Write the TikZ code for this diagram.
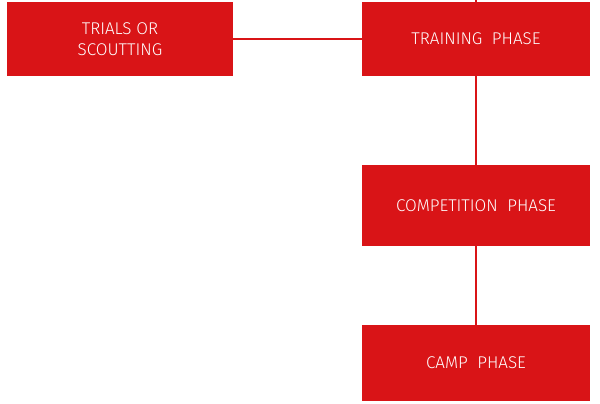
\documentclass[tikz,border=0pt]{standalone}
\usepackage{fontspec}
\setmainfont{Fira Sans Light}
\definecolor{boxred}{HTML}{D91417}
\begin{document}
\begin{tikzpicture}[x=1pt,y=1pt,
  box/.style={fill=boxred,text=white,draw=none,inner sep=0pt,align=center,font=\fontsize{17}{21}\selectfont},
  link/.style={draw=boxred,line width=1.6pt}]
\useasboundingbox (0,0) rectangle (600,404);
\node[box,minimum width=226pt,minimum height=74pt] (trials) at (120,365) {TRIALS OR\\SCOUTTING};
\node[box,minimum width=228pt,minimum height=74pt] (train) at (476,365) {TRAINING~ PHASE};
\node[box,minimum width=228pt,minimum height=81pt] (comp) at (476,198.5) {COMPETITION~ PHASE};
\node[box,minimum width=228pt,minimum height=76pt] (camp) at (476,41) {CAMP~ PHASE};
\coordinate (top) at (476,404);
\draw[link] (trials.east) -- (train.west);
\draw[link] (train.north) -- (top);
\draw[link] (train.south) -- (comp.north);
\draw[link] (comp.south) -- (camp.north);
\end{tikzpicture}
\end{document}
